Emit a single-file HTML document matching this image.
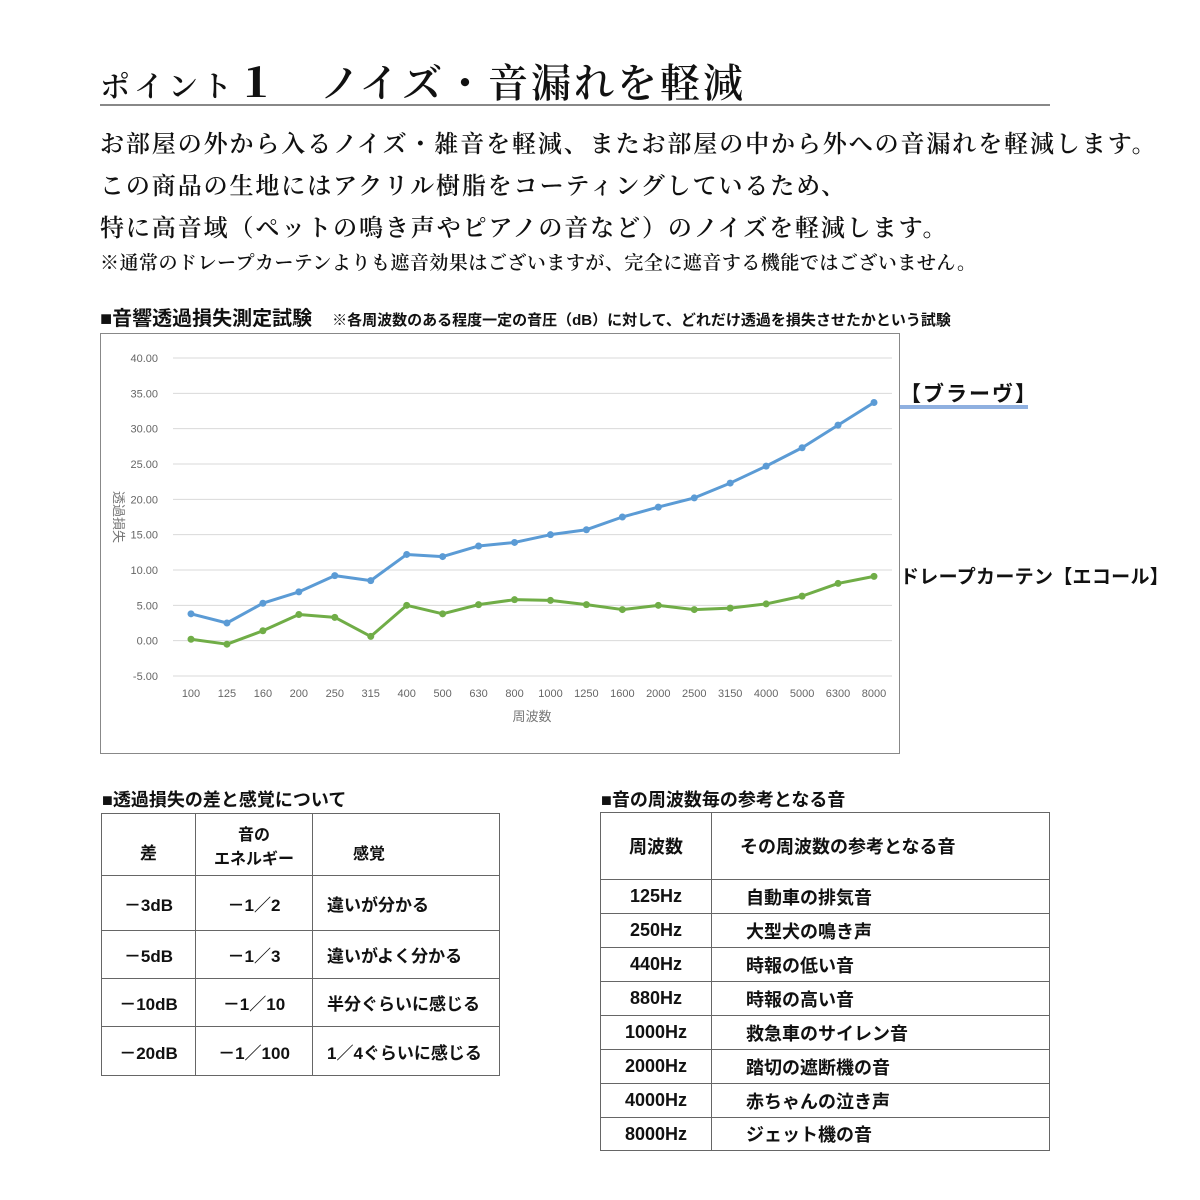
<!DOCTYPE html>
<html><head><meta charset="utf-8">
<style>
body{margin:0;width:1200px;height:1200px;background:#fff;position:relative;overflow:hidden;font-family:"Liberation Sans","Noto Sans CJK JP",sans-serif;color:#111}
.a{position:absolute;white-space:nowrap}
.serif{font-family:"Liberation Serif","Noto Serif CJK SC",serif}
table{border-collapse:collapse;position:absolute;font-size:17px;font-weight:bold}
td{border:1px solid #666;padding:0}
</style></head><body>
<div class="a serif" style="left:100px;top:52px;font-size:40px;letter-spacing:2px;font-weight:600"><span style="font-size:30px;letter-spacing:4px">ポイント</span><b style="font-size:40px">１</b>　<span style="letter-spacing:3px">ノイズ・音漏れを軽減</span></div>
<div class="a" style="left:100px;top:104px;width:950px;height:2px;background:#888"></div>
<div class="a serif" style="left:100px;top:124px;font-size:24px;line-height:42px;letter-spacing:1.9px;font-weight:600">お部屋の外から入るノイズ・雑音を軽減、またお部屋の中から外への音漏れを軽減します。<br>この商品の生地にはアクリル樹脂をコーティングしているため、<br>特に高音域（ペットの鳴き声やピアノの音など）のノイズを軽減します。</div>
<div class="a serif" style="left:100px;top:248px;font-size:19px;letter-spacing:0.5px;font-weight:600">※通常のドレープカーテンよりも遮音効果はございますが、完全に遮音する機能ではございません。</div>
<div class="a" style="left:100px;top:302px;font-size:20px;font-weight:bold">■音響透過損失測定試験　<span style="font-size:15px;font-weight:bold">※各周波数のある程度一定の音圧（dB）に対して、どれだけ透過を損失させたかという試験</span></div>
<svg class="a" id="chart" style="left:100px;top:333px" width="800" height="421"></svg>
<div class="a" style="left:900px;top:378px;font-size:21px;font-weight:bold;letter-spacing:2px">【ブラーヴ】</div>
<div class="a" style="left:900px;top:405px;width:128px;height:4px;background:#8fb0e0"></div>
<div class="a" style="left:900px;top:562px;font-size:19px;font-weight:bold;letter-spacing:0.3px">ドレープカーテン【エコール】</div>

<div class="a" style="left:102px;top:786px;font-size:18px;font-weight:bold">■透過損失の差と感覚について</div>
<table style="left:101px;top:813px;width:399px">
<tr style="height:62px"><td style="width:93px;text-align:center;padding-top:14px">差</td><td style="width:116px;text-align:center;font-size:16px">音の<br>エネルギー</td><td style="padding-left:40px;padding-top:14px;font-size:16px">感覚</td></tr>
<tr style="height:55px"><td style="text-align:center">－3dB</td><td style="text-align:center">－1／2</td><td style="padding-left:14px">違いが分かる</td></tr>
<tr style="height:48px"><td style="text-align:center">－5dB</td><td style="text-align:center">－1／3</td><td style="padding-left:14px">違いがよく分かる</td></tr>
<tr style="height:48px"><td style="text-align:center">－10dB</td><td style="text-align:center">－1／10</td><td style="padding-left:14px">半分ぐらいに感じる</td></tr>
<tr style="height:49px"><td style="text-align:center">－20dB</td><td style="text-align:center">－1／100</td><td style="padding-left:14px">1／4ぐらいに感じる</td></tr>
</table>

<div class="a" style="left:601px;top:786px;font-size:18px;font-weight:bold">■音の周波数毎の参考となる音</div>
<table style="left:600px;top:812px;width:450px;font-size:18px">
<tr style="height:67px"><td style="width:110px;text-align:center">周波数</td><td style="padding-left:28px">その周波数の参考となる音</td></tr>
<tr style="height:34px"><td style="text-align:center">125Hz</td><td style="padding-left:34px">自動車の排気音</td></tr>
<tr style="height:34px"><td style="text-align:center">250Hz</td><td style="padding-left:34px">大型犬の鳴き声</td></tr>
<tr style="height:34px"><td style="text-align:center">440Hz</td><td style="padding-left:34px">時報の低い音</td></tr>
<tr style="height:34px"><td style="text-align:center">880Hz</td><td style="padding-left:34px">時報の高い音</td></tr>
<tr style="height:34px"><td style="text-align:center">1000Hz</td><td style="padding-left:34px">救急車のサイレン音</td></tr>
<tr style="height:34px"><td style="text-align:center">2000Hz</td><td style="padding-left:34px">踏切の遮断機の音</td></tr>
<tr style="height:34px"><td style="text-align:center">4000Hz</td><td style="padding-left:34px">赤ちゃんの泣き声</td></tr>
<tr style="height:33px"><td style="text-align:center">8000Hz</td><td style="padding-left:34px">ジェット機の音</td></tr>
</table>

<script>
const categories=["100","125","160","200","250","315","400","500","630","800","1000","1250","1600","2000","2500","3150","4000","5000","6300","8000"];
const blauValues=[3.8,2.5,5.3,6.9,9.2,8.5,12.2,11.9,13.4,13.9,15.0,15.7,17.5,18.9,20.2,22.3,24.7,27.3,30.5,33.7];
const ecoleValues=[0.2,-0.5,1.4,3.7,3.3,0.6,5.0,3.8,5.1,5.8,5.7,5.1,4.4,5.0,4.4,4.6,5.2,6.3,8.1,9.1];
const yTicks=[-5,0,5,10,15,20,25,30,35,40];
const NS="http://www.w3.org/2000/svg";
const svg=document.getElementById('chart');
function mk(t,a){const e=document.createElementNS(NS,t);for(const k in a)e.setAttribute(k,a[k]);svg.appendChild(e);return e;}
const x0=91,x1=774,yTop=25,yBot=343,vMin=-5,vMax=40;
const xs=i=>x0+(x1-x0)*i/(categories.length-1);
const ys=v=>yBot-(v-vMin)/(vMax-vMin)*(yBot-yTop);
let fr=mk('rect',{x:0.5,y:0.5,width:799,height:420,fill:'#fff',stroke:'#888'});


yTicks.forEach(v=>{
 let g=mk('line',{x1:73,x2:792,y1:ys(v),y2:ys(v),stroke:'#d9d9d9'});
 
 
 let t=mk('text',{x:58,y:ys(v)+4,'text-anchor':'end','font-size':11,fill:'#666'});
 t.textContent=v.toFixed(2);
 
 
});
categories.forEach((c,i)=>{
 let t=mk('text',{x:xs(i),y:364,'text-anchor':'middle','font-size':11,fill:'#666'});
 t.textContent=c;
 
 
});
let xt=mk('text',{x:432,y:388,'text-anchor':'middle','font-size':13,fill:'#777'});
xt.textContent='周波数';


let yt=mk('text',{x:0,y:0,'text-anchor':'middle','font-size':13,fill:'#777',transform:'translate(14,184) rotate(90)'});
yt.textContent='透過損失';


function series(vals,col,name){
 let p=mk('polyline',{points:vals.map((v,i)=>xs(i)+','+ys(v)).join(' '),fill:'none',stroke:col,'stroke-width':3,'stroke-linejoin':'round'});
 
 
 vals.forEach((v,i)=>{
  let c=mk('circle',{cx:xs(i),cy:ys(v),r:3.5,fill:col});
  
  
 });
}
series(ecoleValues,'#70ad47','ecole');
series(blauValues,'#5b9bd5','blau');
</script>
</body></html>
